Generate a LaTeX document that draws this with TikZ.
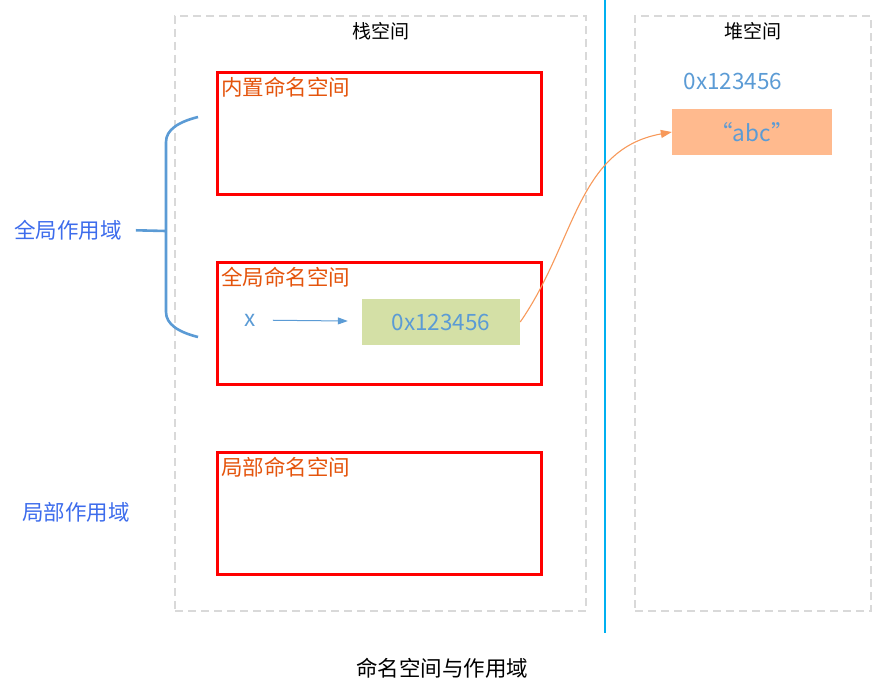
\documentclass[tikz,border=0pt]{standalone}
\usepackage{fontspec}
\setmainfont{Noto Sans CJK SC}
\usetikzlibrary{arrows.meta,positioning}
\definecolor{zone}{HTML}{D9D9D9}
\definecolor{nsred}{HTML}{FF0000}
\definecolor{nstext}{HTML}{E4540C}
\definecolor{valblue}{HTML}{5B9BD5}
\definecolor{scopeblue}{HTML}{3D6CEC}
\definecolor{split}{HTML}{00B0F0}
\definecolor{addrbg}{HTML}{D4E0A6}
\definecolor{strbg}{HTML}{FFBA8E}
\definecolor{link}{HTML}{F7995A}

\begin{document}
\begin{tikzpicture}[x=1pt,y=-1pt,
  zonebox/.style={draw=zone,line width=2pt,dash pattern=on 8pt off 5pt,
                  anchor=north west,inner sep=0pt,minimum height=595pt},
  zonetitle/.style={font=\fontsize{19}{22}\selectfont,text=black,inner sep=1pt},
  nsbox/.style={draw=nsred,line width=2.6pt,anchor=north west,inner sep=0pt,
                minimum width=324pt,minimum height=122pt},
  nstag/.style={font=\fontsize{21.5}{24}\selectfont,text=nstext,inner sep=0pt,anchor=north west},
  scopetag/.style={font=\fontsize{21.5}{24}\selectfont,text=scopeblue,inner sep=2pt},
  cell/.style={inner sep=0pt,minimum width=158pt,minimum height=46pt,
               text=valblue,font=\fontsize{22.5}{25}\selectfont},
  ptr/.style={-{Triangle[length=10pt,width=7pt]},draw=valblue,line width=1pt},
  ref/.style={-{Triangle[length=11pt,width=8pt]},draw=link,line width=1.1pt},
  bracket/.style={draw=valblue,line width=2.6pt}]

\useasboundingbox (0,0) rectangle (890,696);

\node[zonebox,minimum width=411pt] (stack) at (174,15) {};
\node[zonebox,minimum width=236pt] (heap)  at (634,15) {};
\draw[split,line width=2.6pt] (605,0) -- (605,633);

\node[zonetitle,below=6pt of stack.north] (stacktitle) {栈空间};
\node[zonetitle,below=6pt of heap.north]  (heaptitle)  {堆空间};

\node[nsbox] (builtin) at (216,71)  {};
\node[nsbox] (global)  at (216,261) {};
\node[nsbox] (local)   at (216,451) {};

\node[nstag,below right=6pt and 5pt of builtin.north west] (builtintag) {内置命名空间};
\node[nstag,below right=6pt and 5pt of global.north west]  (globaltag)  {全局命名空间};
\node[nstag,below right=6pt and 5pt of local.north west]   (localtag)   {局部命名空间};

\node[cell,fill=addrbg] (addr) at (441,322) {0x123456};
\node[text=valblue,font=\fontsize{22.5}{25}\selectfont,inner sep=0pt] (xvar) at (250,320) {x};
\draw[ptr,shorten <=17pt,shorten >=14pt] (xvar) -- (addr);

\node[text=valblue,font=\fontsize{22.5}{25}\selectfont,inner sep=0pt] (heapaddr) at (733,81) {0x123456};
\node[cell,fill=strbg,minimum width=160pt] (strv) at (752,132) {“abc”};
\draw[ref] (addr.east) .. controls +(55,-79) and +(-95,17) .. (strv.west);

\coordinate (bracetop) at (198,117);
\coordinate (bracemid) at (166,231);
\coordinate (bracebot) at (198,337);
\draw[bracket] (bracetop) .. controls (178,122) and (166,130) .. (166,142)
  -- (166,312) .. controls (166,324) and (178,332) .. (bracebot);

\node[scopetag] (globalscope) at (68,230) {全局作用域};
\node[scopetag] (localscope)  at (76,512) {局部作用域};
\draw[bracket,shorten <=12pt] (globalscope.east) -- (bracemid);

\node[font=\fontsize{21.5}{24}\selectfont,inner sep=0pt] (caption) at (442,668) {命名空间与作用域};
\end{tikzpicture}
\end{document}
